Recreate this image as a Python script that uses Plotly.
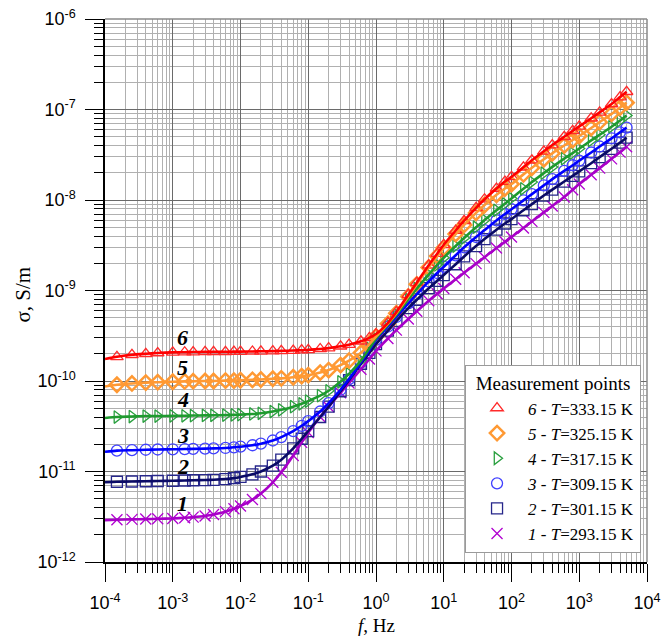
import plotly.graph_objects as go

# ---------------- data ----------------
freq = [1e-4, 1.5e-4, 2.5e-4, 4e-4, 6e-4,
        1e-3, 1.5e-3, 2e-3, 3e-3, 4e-3, 6e-3, 8e-3,
        1e-2, 1.5e-2, 2e-2, 3e-2, 4e-2, 6e-2, 8e-2,
        0.1, 0.15, 0.2, 0.3, 0.4, 0.6, 0.8,
        1, 1.5, 2, 3, 4, 6, 8,
        10, 15, 20, 30, 40, 60, 80,
        100, 150, 200, 300, 400, 600, 800,
        1000, 1500, 2000, 3000, 4000, 5000]

sigma_6 = [1.75e-10, 1.85e-10, 1.95e-10, 2.0e-10, 2.04e-10,
           2.07e-10, 2.08e-10, 2.09e-10, 2.1e-10, 2.1e-10, 2.1e-10, 2.11e-10,
           2.11e-10, 2.12e-10, 2.13e-10, 2.14e-10, 2.15e-10, 2.17e-10, 2.19e-10,
           2.21e-10, 2.26e-10, 2.31e-10, 2.42e-10, 2.52e-10, 2.75e-10, 3.0e-10,
           3.3e-10, 4.4e-10, 5.8e-10, 9.0e-10, 1.22e-9, 1.9e-9, 2.55e-9,
           3.2e-9, 4.6e-9, 5.9e-9, 8.2e-9, 1.02e-8, 1.34e-8, 1.6e-8,
           1.8e-8, 2.3e-8, 2.75e-8, 3.45e-8, 4.05e-8, 5.0e-8, 5.8e-8,
           6.5e-8, 8.0e-8, 9.3e-8, 1.15e-7, 1.37e-7, 1.57e-7]

sigma_5 = [8.7e-11, 9.1e-11, 9.4e-11, 9.6e-11, 9.7e-11,
           9.8e-11, 9.9e-11, 9.95e-11, 1.0e-10, 1.0e-10, 1.01e-10, 1.01e-10,
           1.02e-10, 1.03e-10, 1.04e-10, 1.06e-10, 1.07e-10, 1.1e-10, 1.13e-10,
           1.16e-10, 1.24e-10, 1.32e-10, 1.5e-10, 1.68e-10, 2.05e-10, 2.55e-10,
           3.1e-10, 4.3e-10, 5.6e-10, 8.6e-10, 1.17e-9, 1.8e-9, 2.4e-9,
           2.95e-9, 4.2e-9, 5.3e-9, 7.2e-9, 8.8e-9, 1.14e-8, 1.34e-8,
           1.5e-8, 1.92e-8, 2.27e-8, 2.82e-8, 3.28e-8, 4.0e-8, 4.6e-8,
           5.1e-8, 6.25e-8, 7.25e-8, 8.95e-8, 1.05e-7, 1.19e-7]

sigma_4 = [3.9e-11, 4.0e-11, 4.05e-11, 4.1e-11, 4.1e-11,
           4.12e-11, 4.13e-11, 4.15e-11, 4.17e-11, 4.18e-11, 4.2e-11, 4.22e-11,
           4.25e-11, 4.32e-11, 4.4e-11, 4.6e-11, 4.8e-11, 5.2e-11, 5.6e-11,
           6.0e-11, 6.9e-11, 7.8e-11, 9.8e-11, 1.2e-10, 1.68e-10, 2.3e-10,
           2.95e-10, 4.2e-10, 5.4e-10, 8.0e-10, 1.05e-9, 1.5e-9, 1.92e-9,
           2.3e-9, 3.1e-9, 3.8e-9, 5.0e-9, 6.0e-9, 7.7e-9, 9.1e-9,
           1.04e-8, 1.33e-8, 1.58e-8, 1.98e-8, 2.32e-8, 2.87e-8, 3.3e-8,
           3.7e-8, 4.55e-8, 5.25e-8, 6.45e-8, 7.55e-8, 8.6e-8]

sigma_3 = [1.65e-11, 1.7e-11, 1.72e-11, 1.74e-11, 1.75e-11,
           1.76e-11, 1.77e-11, 1.78e-11, 1.79e-11, 1.8e-11, 1.82e-11, 1.85e-11,
           1.88e-11, 1.95e-11, 2.03e-11, 2.2e-11, 2.4e-11, 2.8e-11, 3.2e-11,
           3.6e-11, 4.6e-11, 5.7e-11, 8.0e-11, 1.05e-10, 1.6e-10, 2.2e-10,
           2.85e-10, 4.0e-10, 5.1e-10, 7.2e-10, 9.1e-10, 1.26e-9, 1.56e-9,
           1.83e-9, 2.45e-9, 3.0e-9, 3.9e-9, 4.65e-9, 5.95e-9, 7.0e-9,
           7.9e-9, 9.9e-9, 1.16e-8, 1.45e-8, 1.7e-8, 2.1e-8, 2.42e-8,
           2.72e-8, 3.35e-8, 3.9e-8, 4.8e-8, 5.6e-8, 6.3e-8]

sigma_2 = [7.6e-12, 7.7e-12, 7.75e-12, 7.8e-12, 7.85e-12,
           7.9e-12, 7.95e-12, 8.0e-12, 8.05e-12, 8.1e-12, 8.25e-12, 8.45e-12,
           8.7e-12, 9.3e-12, 1.0e-11, 1.16e-11, 1.35e-11, 1.8e-11, 2.3e-11,
           2.8e-11, 4.0e-11, 5.2e-11, 7.7e-11, 1.02e-10, 1.55e-10, 2.05e-10,
           2.55e-10, 3.6e-10, 4.6e-10, 6.4e-10, 7.9e-10, 1.06e-9, 1.28e-9,
           1.48e-9, 1.95e-9, 2.38e-9, 3.1e-9, 3.7e-9, 4.7e-9, 5.5e-9,
           6.15e-9, 7.7e-9, 9.0e-9, 1.12e-8, 1.3e-8, 1.6e-8, 1.85e-8,
           2.07e-8, 2.55e-8, 2.98e-8, 3.68e-8, 4.3e-8, 4.88e-8]

sigma_1 = [2.9e-12, 2.93e-12, 2.96e-12, 2.98e-12, 3.0e-12,
           3.03e-12, 3.08e-12, 3.13e-12, 3.23e-12, 3.35e-12, 3.6e-12, 3.88e-12,
           4.15e-12, 4.9e-12, 5.7e-12, 7.6e-12, 9.8e-12, 1.5e-11, 2.1e-11,
           2.7e-11, 4.0e-11, 5.2e-11, 7.4e-11, 9.5e-11, 1.35e-10, 1.75e-10,
           2.15e-10, 2.95e-10, 3.65e-10, 4.85e-10, 5.9e-10, 7.7e-10, 9.2e-10,
           1.05e-9, 1.33e-9, 1.57e-9, 1.98e-9, 2.33e-9, 2.95e-9, 3.45e-9,
           3.9e-9, 4.9e-9, 5.8e-9, 7.3e-9, 8.6e-9, 1.08e-8, 1.3e-8,
           1.5e-8, 1.9e-8, 2.25e-8, 2.85e-8, 3.38e-8, 3.88e-8]

series_ids = ["6", "5", "4", "3", "2", "1"]
temps = ["333.15", "325.15", "317.15", "309.15", "301.15", "293.15"]
sigmas = [sigma_6, sigma_5, sigma_4, sigma_3, sigma_2, sigma_1]

line_colors = ["#FF0000", "#FF9933", "#1E9A2E", "#0000FF", "#0A0A66", "#A800C8"]
marker_colors = ["#FF2A2A", "#FF9933", "#2BA040", "#4040FF", "#26268A", "#B000D0"]
marker_symbols = ["triangle-up-open", "diamond-open", "triangle-right-open",
                  "circle-open", "square-open", "x-thin-open"]

x_tick_vals = [1e-4, 1e-3, 1e-2, 1e-1, 1e0, 1e1, 1e2, 1e3, 1e4]
x_tick_text = ["10<sup>-4</sup>", "10<sup>-3</sup>", "10<sup>-2</sup>", "10<sup>-1</sup>",
               "10<sup>0</sup>", "10<sup>1</sup>", "10<sup>2</sup>", "10<sup>3</sup>", "10<sup>4</sup>"]
y_tick_vals = [1e-12, 1e-11, 1e-10, 1e-9, 1e-8, 1e-7, 1e-6]
y_tick_text = ["10<sup>-12</sup>", "10<sup>-11</sup>", "10<sup>-10</sup>", "10<sup>-9</sup>",
               "10<sup>-8</sup>", "10<sup>-7</sup>", "10<sup>-6</sup>"]

# curve number labels: (log10 f, log10 sigma)
label_pos = [(-2.85, -9.52), (-2.85, -9.855), (-2.85, -10.2),
             (-2.85, -10.6), (-2.85, -10.94), (-2.85, -11.35)]

# ---------------- figure ----------------
fig = go.Figure()

SERIF = "Liberation Serif, Times New Roman, serif"
SANS = "Liberation Sans, Arial, sans-serif"

for i in reversed(range(6)):
    sid = series_ids[i]
    fig.add_trace(go.Scatter(
        x=freq[1:], y=sigmas[i][1:], mode="markers",
        name=f"<i>{sid}</i> - <i>T</i>={temps[i]} K",
        legendrank=i + 1,
        marker=dict(symbol=marker_symbols[i], size=11, color=marker_colors[i],
                    line=dict(width=1.3 if i != 1 else 2.5, color=marker_colors[i])),
    ))
for i in reversed(range(6)):
    fig.add_trace(go.Scatter(
        x=freq, y=sigmas[i], mode="lines", showlegend=False,
        line=dict(color=line_colors[i], width=2.6, shape="spline", smoothing=0.6),
        hoverinfo="skip",
    ))

minor_x = [m * 10 ** e for e in range(-4, 4) for m in range(2, 10)]
minor_y = [m * 10 ** e for e in range(-12, -6) for m in range(2, 10)]

axis_common = dict(
    type="log", ticks="outside", ticklen=18, tickwidth=1, tickcolor="black",
    showline=True, linecolor="black", linewidth=1.5, mirror=False,
    showgrid=True, gridcolor="#6a6a6a", gridwidth=1, zeroline=False,
    tickfont=dict(family=SANS, size=18, color="black"),
    tickmode="array",
)

fig.update_xaxes(
    **axis_common, range=[-4, 4], tickvals=x_tick_vals, ticktext=x_tick_text,
    minor=dict(tickmode="array", tickvals=minor_x, ticks="outside", ticklen=9,
               tickcolor="black", tickwidth=1, showgrid=True,
               gridcolor="#b0b0b0", gridwidth=1),
    ticklabelstandoff=6,
)
fig.update_yaxes(
    **axis_common, range=[-12, -6], tickvals=y_tick_vals, ticktext=y_tick_text,
    minor=dict(tickmode="array", tickvals=minor_y, ticks="outside", ticklen=9,
               tickcolor="black", tickwidth=1, showgrid=True,
               gridcolor="#b0b0b0", gridwidth=1),
    ticklabelstandoff=6,
)

annotations = []
for (lx, ly), sid in zip(label_pos, series_ids):
    annotations.append(dict(x=lx, y=ly, xref="x", yref="y", text=f"<b><i>{sid}</i></b>",
                            showarrow=False, font=dict(family=SERIF, size=22, color="black")))
annotations.append(dict(x=0.5, y=0, xref="paper", yref="paper", yanchor="middle", yshift=-63,
                        text="<i>f</i>, Hz", showarrow=False, borderpad=0,
                        font=dict(family=SERIF, size=19, color="black")))
annotations.append(dict(x=0, y=0.5, xref="paper", yref="paper", xanchor="center",
                        xshift=-83, yshift=-4, textangle=-90,
                        text="σ, S/m", showarrow=False,
                        font=dict(family=SERIF, size=21, color="black")))

shapes = [
    dict(type="line", xref="paper", yref="paper", x0=0, x1=1, y0=1, y1=1,
         line=dict(color="#8a8a8a", width=1.5)),
    dict(type="line", xref="paper", yref="paper", x0=1, x1=1, y0=0, y1=1,
         line=dict(color="#8a8a8a", width=1.5)),
]

fig.update_layout(
    width=661, height=638,
    margin=dict(l=105, r=14, t=19, b=76, autoexpand=False),
    paper_bgcolor="white", plot_bgcolor="white",
    showlegend=True,
    legend=dict(x=0.989, y=0.017, xanchor="right", yanchor="bottom",
                bgcolor="white", bordercolor="#9a9a9a", borderwidth=1,
                font=dict(family=SERIF, size=17, color="black"),
                title=dict(text="Measurement points", side="top center",
                           font=dict(family=SERIF, size=19, color="black")),
                itemwidth=52, traceorder="normal", tracegroupgap=0),
    annotations=annotations,
    shapes=shapes,
)

fig.write_html("out.html")
